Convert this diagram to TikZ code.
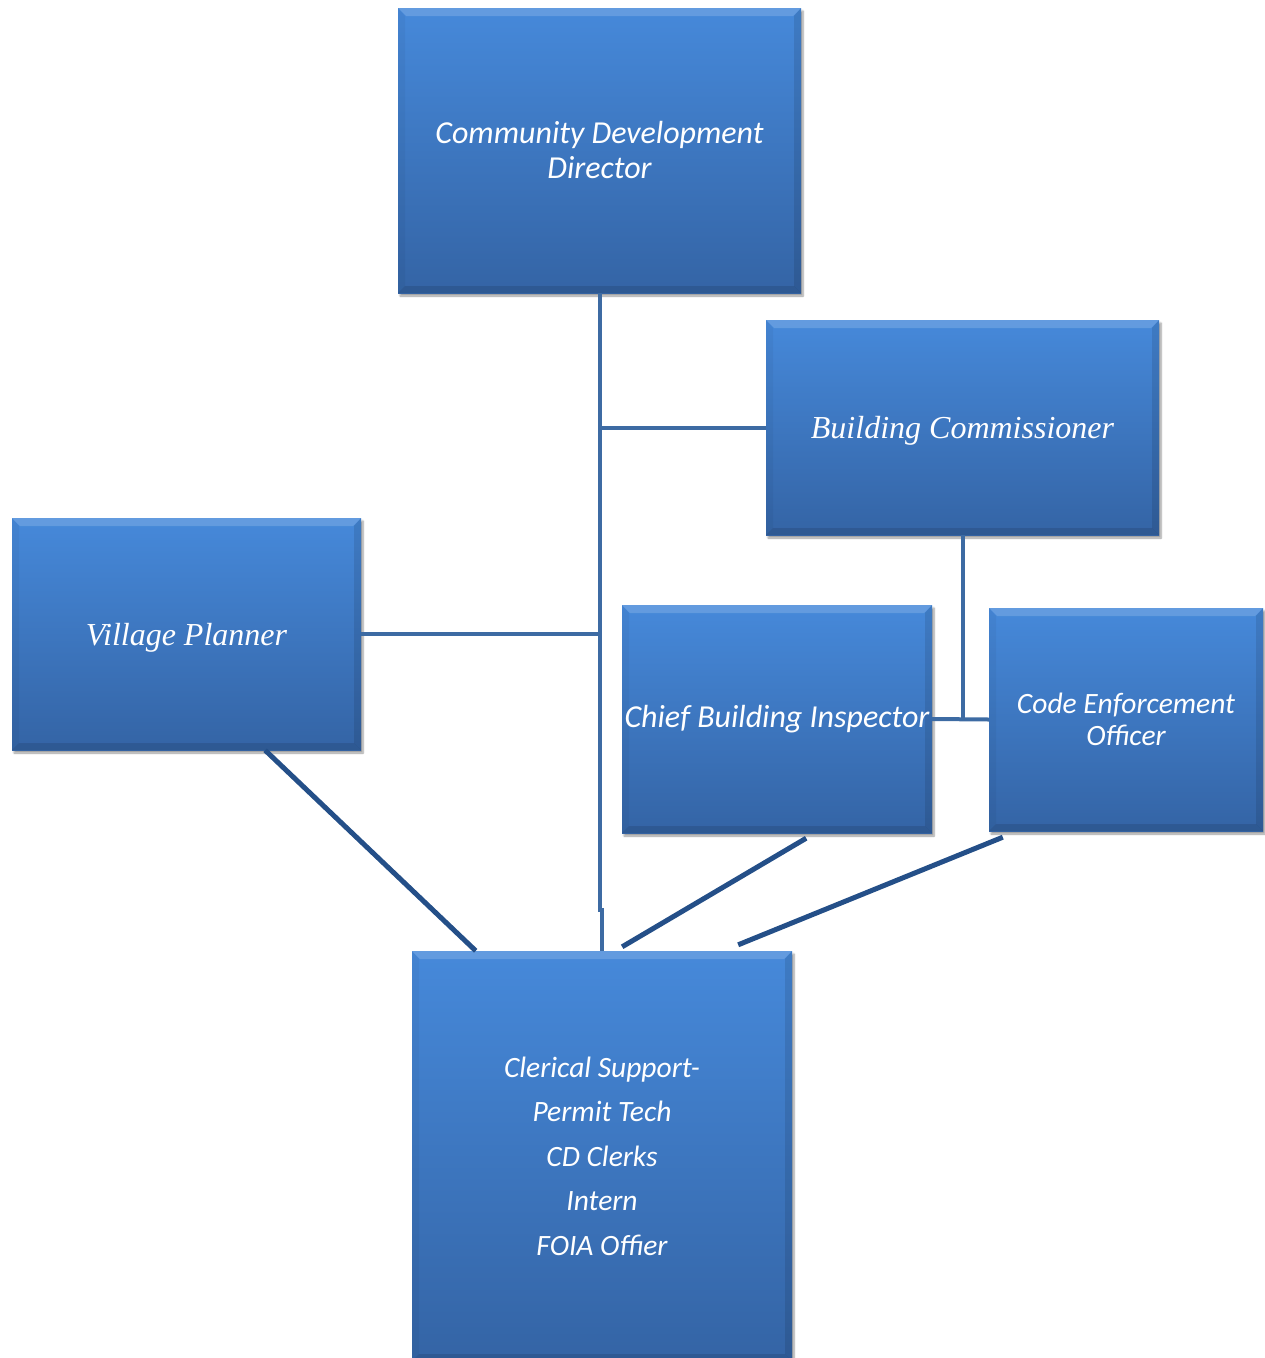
\documentclass[tikz,border=0pt]{standalone}
\usepackage{fontspec}
\setmainfont{Carlito}
\newfontfamily\timesit{Liberation Serif}
\usetikzlibrary{calc,shadows.blur}

\definecolor{boxtop}{HTML}{4689DA}
\definecolor{boxbot}{HTML}{3464A5}
\definecolor{linkA}{HTML}{3D6BA3}
\definecolor{linkB}{HTML}{244F88}

\tikzset{
  orgbox/.style={
    rectangle, inner sep=0pt, align=center, text=white,
    top color=boxtop, bottom color=boxbot,
    font=\fontsize{32}{35}\selectfont\itshape,
    blur shadow={shadow xshift=2pt, shadow yshift=-3pt, shadow opacity=40, shadow blur steps=6},
    path picture={
      \coordinate (nw) at (path picture bounding box.north west);
      \coordinate (ne) at (path picture bounding box.north east);
      \coordinate (sw) at (path picture bounding box.south west);
      \coordinate (se) at (path picture bounding box.south east);
      % top bevel
      \fill[white, opacity=0.16] (nw) -- (ne) -- ([xshift=-8pt,yshift=-8pt]ne) -- ([xshift=8pt,yshift=-8pt]nw) -- cycle;
      % left bevel
      \fill[black, opacity=0.04] (nw) -- ([xshift=7pt,yshift=-8pt]nw) -- ([xshift=7pt,yshift=7pt]sw) -- (sw) -- cycle;
      % right bevel
      \fill[black, opacity=0.10] (ne) -- ([xshift=-7pt,yshift=-8pt]ne) -- ([xshift=-7pt,yshift=7pt]se) -- (se) -- cycle;
      % bottom bevel
      \fill[black, opacity=0.11] (sw) -- (se) -- ([xshift=-7pt,yshift=7pt]se) -- ([xshift=7pt,yshift=7pt]sw) -- cycle;
    }
  },
  seriftext/.style={text=white, inner sep=0pt, yshift=-3.5pt,
    font=\fontsize{32}{36}\selectfont\timesit\itshape},
  smallbox/.style={orgbox, font=\fontsize{29.5}{32}\selectfont\itshape},
  link/.style={draw=linkA, line width=4pt},
  diag/.style={draw=linkB, line width=5pt},
}

\begin{document}
\begin{tikzpicture}[x=1pt, y=-1pt]
  \useasboundingbox (0,0) rectangle (1265,1358);

  % boxes
  \node[orgbox, minimum width=403pt, minimum height=285pt] (cdd) at (599.5,150.5)
    {Community Development\\Director};
  \node[orgbox, minimum width=393pt, minimum height=215pt,
        label={[seriftext]center:Building Commissioner}] (bc) at (962.5,427.5) {};
  \node[orgbox, minimum width=349pt, minimum height=232pt,
        label={[seriftext]center:Village Planner}] (vp) at (186.5,634) {};
  \node[orgbox, minimum width=310pt, minimum height=228pt] (cbi) at (777,719)
    {Chief Building Inspector};
  \node[smallbox, minimum width=274pt, minimum height=223pt] (ceo) at (1126,719.5)
    {Code Enforcement\\Officer};
  \node[smallbox, minimum width=380pt, minimum height=410pt,
        font=\fontsize{29.5}{44.5}\selectfont\itshape] (cler) at (602,1156)
    {Clerical Support-\\Permit Tech\\CD Clerks\\Intern\\FOIA Offier};

  % reporting lines
  \draw[link] (cdd.south) -- ++(0,617) -| (cler.north);
  \draw[link] (cdd.south |- bc.west) -- (bc.west);
  \draw[link] (vp.east) -- (vp.east -| cdd.south);
  \draw[link] (bc.south) -- (bc.south |- cbi.east);
  \draw[link] (cbi.east) -- (ceo.west);

  % links down to clerical support
  \draw[diag] ($(vp.south west)!0.725!(vp.south east)$) -- ($(cler.north west)!0.168!(cler.north east)$);
  \draw[diag] ([yshift=-5pt]$(cbi.south west)!0.594!(cbi.south east)$) -- ([yshift=4pt]$(cler.north west)!0.553!(cler.north east)$);
  \draw[diag] ([yshift=-6pt]$(ceo.south west)!0.051!(ceo.south east)$) -- ([yshift=6pt]$(cler.north west)!0.858!(cler.north east)$);
\end{tikzpicture}
\end{document}
